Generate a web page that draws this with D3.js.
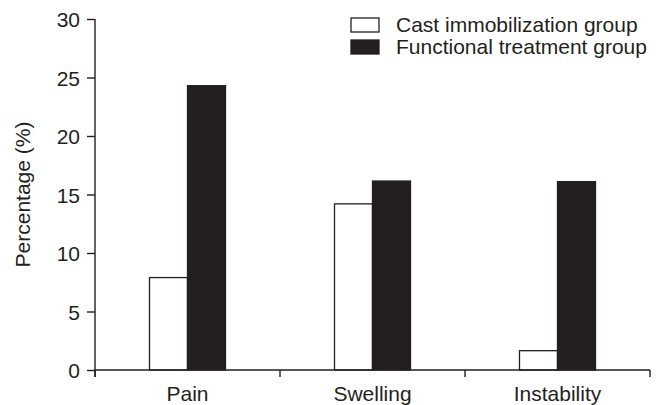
<!DOCTYPE html>
<html>
<head>
<meta charset="utf-8">
<script src="https://cdn.jsdelivr.net/npm/d3@7"></script>
<style>
	body { margin: 0; background: #fff; }
	text { font-family: Arial, 'Liberation Sans', Helvetica, sans-serif; fill: #231f20; }
</style>
</head>
<body>
<script>
// Values
const categories = ['Pain', 'Swelling', 'Instability'];
const groups = ['Cast immobilization group', 'Functional treatment group'];
const castValues = [7.9, 14.2, 1.65];
const functionalValues = [24.3, 16.15, 16.1];
const yTicks = [0, 5, 10, 15, 20, 25, 30];

const width = 663;
const height = 405;
const ink = '#231f20';
const fontSize = '21px';

const margin = {top: 19, right: 13, bottom: 35, left: 95};

const svg = d3
	.select('body')
	.append('svg')
	.attr('width', width)
	.attr('height', height);

const x = d3
	.scaleBand()
	.domain(categories)
	.range([margin.left, width - margin.right])
	.paddingInner(0)
	.paddingOuter(0);

const y = d3
	.scaleLinear()
	.domain([0, 30])
	.range([height - margin.bottom, margin.top]);

const barWidth = 38;

const rows = categories.map((c, i) => ({
	category: c,
	values: [castValues[i], functionalValues[i]]
}));

// Bars
const groupG = svg
	.selectAll('.cat')
	.data(rows)
	.enter()
	.append('g')
	.attr('class', 'cat');

groupG
	.selectAll('rect')
	.data((d) => d.values.map((v, j) => ({cat: d.category, value: v, j: j})))
	.enter()
	.append('rect')
	.attr('x', (d) => x(d.cat) + x.bandwidth() / 2 - barWidth + d.j * barWidth)
	.attr('y', (d) => y(d.value))
	.attr('width', barWidth)
	.attr('height', (d) => y(0) - y(d.value))
	.attr('fill', (d) => (d.j === 0 ? '#fff' : ink))
	.attr('stroke', ink)
	.attr('stroke-width', 1.3);

// Y axis
const yAxis = svg
	.append('g')
	.attr('transform', `translate(${margin.left},0)`)
	.call(d3.axisLeft(y).tickValues(yTicks).tickSize(8).tickPadding(7));

yAxis.select('.domain').attr('stroke', ink).attr('stroke-width', 1.4).attr('d', `M0,${y(30)}V${y(0) + 7}`);
yAxis.selectAll('.tick line').attr('stroke', ink).attr('stroke-width', 1.4);
yAxis.selectAll('.tick text').style('font-size', fontSize).attr('fill', ink).attr('dy', '0.36em')
	.style('font-family', "Arial, 'Liberation Sans', sans-serif");

// X axis: ticks at the band edges
const xAxisG = svg.append('g').attr('transform', `translate(0,${y(0)})`);
xAxisG
	.append('line')
	.attr('x1', margin.left)
	.attr('x2', width - margin.right)
	.attr('stroke', ink)
	.attr('stroke-width', 1.4);

const edges = categories.map((c) => x(c)).concat([x(categories[categories.length - 1]) + x.bandwidth()]);
xAxisG
	.selectAll('.edge')
	.data(edges)
	.enter()
	.append('line')
	.attr('class', 'edge')
	.attr('x1', (d) => d)
	.attr('x2', (d) => d)
	.attr('y1', 0)
	.attr('y2', 7)
	.attr('stroke', ink)
	.attr('stroke-width', 1.4);

xAxisG
	.selectAll('.cat-label')
	.data(categories)
	.enter()
	.append('text')
	.attr('class', 'cat-label')
	.attr('x', (d) => x(d) + x.bandwidth() / 2)
	.attr('y', 31)
	.attr('text-anchor', 'middle')
	.style('font-size', fontSize)
	.text((d) => d);

// Y label
svg
	.append('text')
	.attr('transform', `translate(30,${(y(0) + y(30)) / 2}) rotate(-90)`)
	.attr('text-anchor', 'middle')
	.style('font-size', fontSize)
	.text('Percentage (%)');

// Legend
const legend = svg
	.selectAll('.legend')
	.data(groups)
	.enter()
	.append('g')
	.attr('class', 'legend')
	.attr('transform', (d, i) => `translate(351,${18 + i * 22})`);

legend
	.append('rect')
	.attr('width', 28)
	.attr('height', 14)
	.attr('fill', (d, i) => (i === 0 ? '#fff' : ink))
	.attr('stroke', ink)
	.attr('stroke-width', 1.3);

legend
	.append('text')
	.attr('x', 45)
	.attr('y', 13.5)
	.style('font-size', fontSize)
	.text((d) => d);
</script>
</body>
</html>
